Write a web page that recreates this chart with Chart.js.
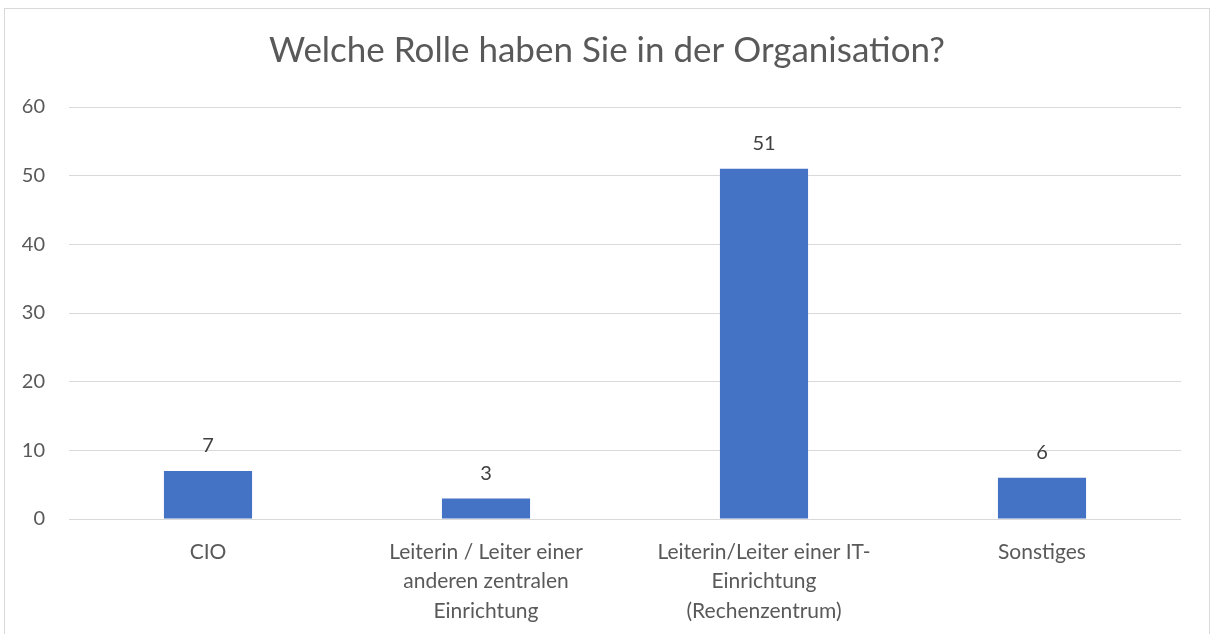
<!DOCTYPE html>
<html>
<head>
<meta charset="utf-8">
<script src="https://cdn.jsdelivr.net/npm/chart.js@4"></script>
<style>
html,body{margin:0;padding:0;background:#fff;}
#wrap{width:1211px;height:634px;position:relative;}
</style>
</head>
<body>
<div id="wrap"><canvas id="c" width="1211" height="634"></canvas></div>
<script>
const chartTitle = 'Welche Rolle haben Sie in der Organisation?';
const categories = [
  'CIO',
  ['Leiterin / Leiter einer', 'anderen zentralen', 'Einrichtung'],
  ['Leiterin/Leiter einer IT-', 'Einrichtung', '(Rechenzentrum)'],
  'Sonstiges'
];
const values = [7, 3, 51, 6];
const yTicks = [0, 10, 20, 30, 40, 50, 60];

const FONT = 'Lato, "Open Sans", sans-serif';

const framePlugin = {
  id: 'frame',
  beforeDraw(chart) {
    const ctx = chart.ctx;
    ctx.save();
    ctx.fillStyle = '#ffffff';
    ctx.fillRect(0, 0, chart.width, chart.height);
    ctx.strokeStyle = '#d9d9d9';
    ctx.lineWidth = 1;
    ctx.strokeRect(4.5, 8.5, 1205, 700);
    ctx.font = '35px ' + FONT;
    ctx.fillStyle = '#595959';
    ctx.textAlign = 'center';
    ctx.textBaseline = 'middle';
    ctx.fillText(chartTitle, 607, 51);
    ctx.restore();
  }
};

const labelPlugin = {
  id: 'valueLabels',
  afterDatasetsDraw(chart) {
    const ctx = chart.ctx;
    const meta = chart.getDatasetMeta(0);
    ctx.save();
    ctx.font = '20px ' + FONT;
    ctx.fillStyle = '#404040';
    ctx.textAlign = 'center';
    ctx.textBaseline = 'middle';
    meta.data.forEach((bar, i) => {
      ctx.fillText(String(chart.data.datasets[0].data[i]), bar.x, bar.y - 25);
    });
    ctx.restore();
  }
};

new Chart(document.getElementById('c'), {
  type: 'bar',
  data: {
    labels: categories,
    datasets: [{
      data: values,
      backgroundColor: '#4472C4',
      borderWidth: 0,
      barPercentage: 0.317,
      categoryPercentage: 1.0
    }]
  },
  options: {
    responsive: false,
    animation: false,
    layout: { padding: { left: 0, right: 30, top: 107, bottom: 0 } },
    plugins: {
      legend: { display: false },
      tooltip: { enabled: false },
      title: { display: false }
    },
    scales: {
      x: {
        grid: { display: false, drawTicks: false },
        border: { display: false },
        ticks: {
          color: '#595959',
          font: { family: FONT, size: 21, lineHeight: 1.42 },
          padding: 18,
          maxRotation: 0,
          autoSkip: false
        },
        afterFit(scale) { scale.height = 115; }
      },
      y: {
        min: 0,
        max: 60,
        afterBuildTicks(scale) { scale.ticks = yTicks.map(v => ({ value: v })); },
        grid: { color: '#d9d9d9', lineWidth: 1, drawTicks: false },
        border: { display: false },
        ticks: {
          color: '#595959',
          font: { family: FONT, size: 20 },
          padding: 24
        },
        afterFit(scale) { scale.width = 69; }
      }
    }
  },
  plugins: [framePlugin, labelPlugin]
});
</script>
</body>
</html>
